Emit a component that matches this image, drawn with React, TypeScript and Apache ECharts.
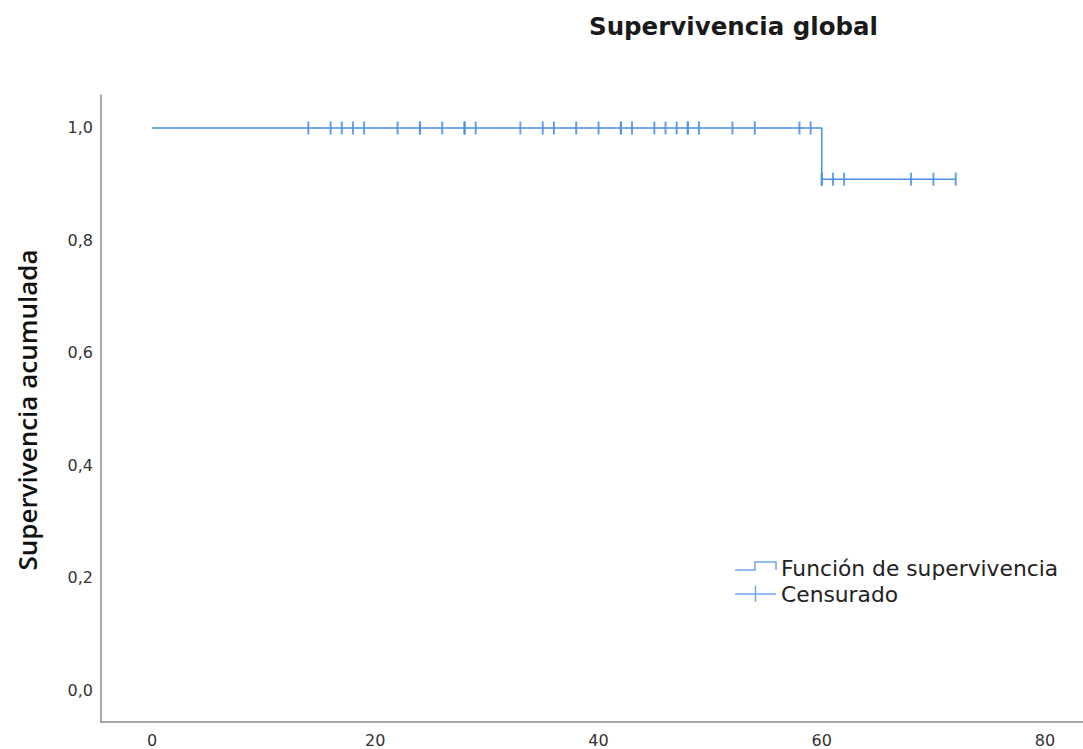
import React, { useEffect, useRef } from "react";
import * as echarts from "echarts";

const titleText = "Supervivencia global";
const yAxisTitle = "Supervivencia acumulada";
const legendLabels = ["Función de supervivencia", "Censurado"];

// Kaplan-Meier step function (time, cumulative survival)
const stepTimes = [0, 60, 72];
const stepSurvival = [1.0, 0.909, 0.909];

// Censored observation times (duplicates = overlapping marks)
const censoredTimes = [
  14, 16, 17, 18, 19, 22, 24, 24, 26, 28, 28, 29, 33, 35, 36, 38, 40, 42, 42,
  43, 45, 46, 47, 48, 48, 49, 52, 54, 58, 59, 60, 60, 61, 62, 68, 70, 72,
];

const xTicks = [0, 20, 40, 60, 80];
const yTicks = [0, 0.2, 0.4, 0.6, 0.8, 1.0];

const survivalAt = (t: number) => {
  let s = stepSurvival[0];
  for (let i = 0; i < stepTimes.length; i++) {
    if (stepTimes[i] <= t) s = stepSurvival[i];
  }
  return s;
};

const LINE = "#4A8FE7";
const LEGEND_LINE = "#6FA5EC";

export default function App() {
  const ref = useRef<HTMLDivElement>(null);
  useEffect(() => {
    if (!ref.current) return;
    const chart = echarts.init(ref.current, undefined, { renderer: "svg" });
    const stepData = stepTimes.map((t, i) => [t, stepSurvival[i]]);
    const censData = censoredTimes.map((t) => [t, survivalAt(t)]);
    chart.setOption({
      animation: false,
      backgroundColor: "#ffffff",
      title: {
        text: titleText,
        left: 584,
        top: 9,
        textStyle: {
          fontFamily: "DejaVu Sans",
          fontWeight: "bold",
          fontSize: 24.5,
          color: "#1a1a1a",
        },
      },
      grid: { left: 101, right: 0, top: 95, bottom: 27, containLabel: false },
      xAxis: {
        type: "value",
        min: -4.569,
        max: 83.4,
        axisLine: {
          show: true,
          onZero: false,
          lineStyle: { color: "#8c8c8c", width: 1.5 },
        },
        axisTick: { show: false },
        splitLine: { show: false },
        axisLabel: {
          customValues: xTicks,
          margin: 10,
          fontFamily: "DejaVu Sans",
          fontSize: 16,
          color: "#333",
        },
      },
      yAxis: {
        type: "value",
        min: -0.0569,
        max: 1.0587,
        axisLine: {
          show: true,
          onZero: false,
          lineStyle: { color: "#8c8c8c", width: 1.5 },
        },
        axisTick: { show: false },
        splitLine: { show: false },
        axisLabel: {
          customValues: yTicks,
          margin: 8,
          fontFamily: "DejaVu Sans",
          fontSize: 16,
          color: "#333",
          formatter: (v: number) => v.toFixed(1).replace(".", ","),
        },
      },
      series: [
        {
          name: legendLabels[0],
          type: "line",
          step: "end",
          data: stepData,
          showSymbol: false,
          lineStyle: { color: LINE, width: 1.5 },
          silent: true,
          z: 2,
        },
        {
          name: legendLabels[1],
          type: "scatter",
          data: censData,
          symbol: "rect",
          symbolSize: [2, 13],
          itemStyle: { color: LINE, opacity: 0.85 },
          silent: true,
          z: 3,
        },
      ],
      graphic: [
        {
          type: "text",
          x: 27,
          y: 410,
          rotation: Math.PI / 2,
          style: {
            text: yAxisTitle,
            fontFamily: "Open Sans",
            fontSize: 26,
            fontWeight: 600,
            fill: "#111",
            align: "center",
            verticalAlign: "middle",
          },
        },
        {
          type: "polyline",
          shape: {
            points: [
              [735, 570],
              [755, 570],
              [755, 562],
              [776, 562],
              [776, 570],
            ],
          },
          style: { stroke: LEGEND_LINE, lineWidth: 1.5, fill: null },
        },
        {
          type: "text",
          x: 781,
          y: 568,
          style: {
            text: legendLabels[0],
            fontFamily: "DejaVu Sans",
            fontSize: 21.8,
            fill: "#222",
            align: "left",
            verticalAlign: "middle",
          },
        },
        {
          type: "line",
          shape: { x1: 735, y1: 594, x2: 776, y2: 594 },
          style: { stroke: LEGEND_LINE, lineWidth: 1.5 },
        },
        {
          type: "line",
          shape: { x1: 755.5, y1: 586, x2: 755.5, y2: 602 },
          style: { stroke: LEGEND_LINE, lineWidth: 1.5 },
        },
        {
          type: "text",
          x: 781,
          y: 594,
          style: {
            text: legendLabels[1],
            fontFamily: "DejaVu Sans",
            fontSize: 21.8,
            fill: "#222",
            align: "left",
            verticalAlign: "middle",
          },
        },
      ],
    });
    return () => chart.dispose();
  }, []);
  return (
    <div
      ref={ref}
      style={{ position: "fixed", left: 0, top: 0, width: 1083, height: 749 }}
    />
  );
}
